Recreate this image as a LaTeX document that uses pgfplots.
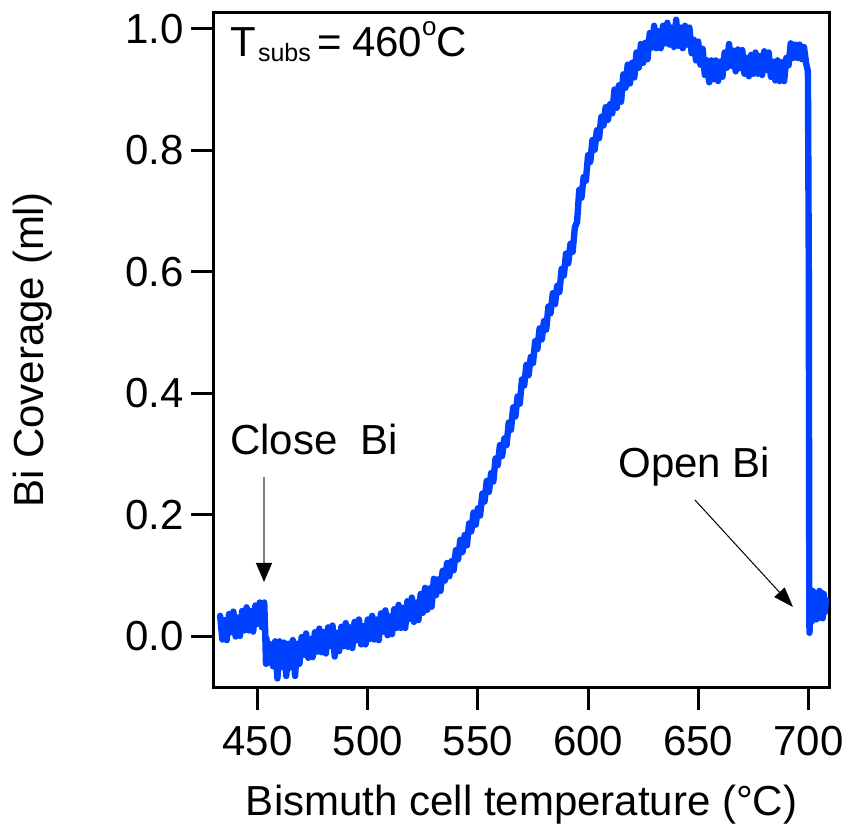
\documentclass[border=0pt]{standalone}
\usepackage{pgfplots}
\pgfplotsset{compat=1.18}
\usepackage{fontspec}
\setmainfont{Liberation Sans}
\usetikzlibrary{arrows.meta,calc}
\definecolor{cblue}{RGB}{0,64,255}
\begin{document}
\begin{tikzpicture}
\begin{axis}[
  scale only axis,
  width=307.65pt, height=337.15pt,
  xmin=430.2, xmax=709.5,
  ymin=-0.0836, ymax=1.026,
  xtick={450,500,550,600,650,700},
  ytick={0,0.2,0.4,0.6,0.8,1.0},
  yticklabel style={/pgf/number format/.cd, fixed, fixed zerofill, precision=1},
  xticklabel style={yshift=-4.5pt},
  /pgf/number format/assume math mode=true,
  tick pos=left,
  tick align=outside,
  major tick length=11.5pt,
  minor tick num=0,
  every tick/.style={black, line width=1.5pt},
  axis line style={line width=1.5pt},
  tick label style={font=\fontsize{21}{25}\selectfont},
  label style={font=\fontsize{21}{25}\selectfont},
  xlabel={Bismuth cell temperature (°C)},
  ylabel={Bi Coverage (ml)},
  xlabel style={at={(axis description cs:0.5,-0.1894)}, anchor=base},
  ylabel style={at={(axis description cs:-0.2775,0.5)}, anchor=base, rotate=0},
  clip=true,
]
\addplot[cblue, line width=3.2pt, line join=round, line cap=round] table {
433 0.034
434 -0.005
435 0.027
436 -0.006
437 0.037
438 0.007
439 0.041
440 0.000
441 0.031
442 0.001
443 0.042
444 0.010
445 0.048
446 0.010
447 0.042
448 0.008
449 0.051
450 0.021
451 0.056
452 0.015
453 0.056
453.5 0.000
453.8 -0.045
454 -0.003
455 -0.043
456 -0.013
457 -0.049
458 -0.008
459 -0.069
460 -0.008
461 -0.050
462 -0.010
463 -0.065
464 -0.012
465 -0.051
466 -0.006
467 -0.065
468 -0.012
469 -0.045
470 -0.001
471 -0.030
472 0.005
473 -0.035
474 -0.004
475 -0.034
476 0.007
477 -0.025
478 0.013
479 -0.026
480 0.007
481 -0.028
482 0.015
483 -0.016
484 0.018
485 -0.033
486 0.006
487 -0.024
488 0.016
489 -0.016
490 0.022
491 -0.017
492 0.015
493 -0.019
494 0.024
495 -0.006
496 0.028
497 -0.013
498 0.017
499 -0.013
500 0.028
501 -0.004
502 0.034
503 -0.005
504 0.028
505 -0.006
506 0.038
507 0.008
508 0.043
509 0.002
510 0.033
511 0.004
512 0.045
513 0.014
514 0.052
515 0.014
516 0.047
517 0.014
518 0.058
519 0.029
520 0.064
521 0.024
522 0.056
523 0.027
524 0.070
525 0.039
526 0.080
527 0.044
528 0.079
529 0.049
530 0.095
531 0.068
532 0.094
533 0.075
534 0.108
535 0.092
536 0.121
537 0.099
538 0.124
539 0.109
540 0.142
541 0.127
542 0.159
543 0.139
544 0.167
545 0.150
546 0.186
547 0.173
548 0.204
549 0.184
550 0.211
551 0.199
552 0.235
553 0.222
554 0.256
555 0.238
556 0.269
557 0.255
558 0.293
559 0.282
560 0.315
561 0.297
562 0.326
563 0.315
564 0.352
565 0.340
566 0.377
567 0.362
568 0.395
569 0.383
570 0.423
571 0.413
572 0.447
573 0.430
574 0.460
575 0.450
576 0.486
577 0.473
578 0.507
579 0.489
580 0.519
581 0.505
582 0.543
583 0.532
584 0.565
585 0.547
586 0.577
587 0.567
588 0.605
589 0.594
590 0.630
591 0.614
592 0.646
593 0.633
594 0.673
595 0.682
596 0.735
597 0.722
598 0.756
599 0.750
600 0.792
601 0.781
602 0.817
603 0.801
604 0.833
605 0.820
606 0.855
607 0.841
608 0.871
609 0.850
610 0.876
611 0.861
612 0.900
613 0.870
614 0.907
615 0.880
616 0.925
617 0.903
618 0.941
619 0.910
620 0.944
621 0.920
622 0.961
623 0.936
624 0.975
625 0.944
626 0.977
627 0.950
628 0.993
629 0.969
630 1.005
631 0.968
632 0.996
633 0.968
634 1.005
635 0.976
636 1.010
637 0.974
638 1.002
639 0.970
640 1.015
641 0.972
642 1.002
643 0.968
644 1.005
645 0.974
646 1.002
647 0.960
648 0.982
649 0.948
650 0.979
651 0.941
652 0.967
653 0.924
654 0.948
655 0.912
656 0.948
657 0.917
658 0.948
659 0.914
660 0.946
661 0.921
662 0.961
663 0.936
664 0.975
665 0.939
666 0.964
667 0.930
668 0.966
669 0.935
670 0.965
671 0.926
672 0.952
673 0.922
674 0.957
675 0.926
676 0.961
677 0.926
678 0.955
679 0.924
680 0.963
681 0.932
682 0.961
683 0.921
684 0.946
685 0.915
686 0.948
687 0.914
688 0.945
689 0.914
690 0.952
691 0.940
692 0.976
693 0.952
694 0.974
695 0.952
696 0.974
697 0.950
698 0.970
699 0.943
699.8 0.930
700.2 0.600
700.4 0.100
700.5 0.006
700.8 0.030
701.2 0.070
701.6 0.025
702 0.075
702.5 0.030
703 0.072
703.5 0.028
704 0.070
704.5 0.030
705 0.075
705.5 0.035
706 0.072
706.5 0.030
707 0.070
707.5 0.040
708 0.060
};
\node[anchor=base west, inner sep=0pt, font=\fontsize{21}{25}\selectfont] at (axis cs:437.4,0.954)
  {T\hspace{0.05em}{\fontsize{12.5}{12.5}\selectfont\raisebox{-0.2em}{subs}}\hspace{0.15em}=\hspace{0.25em}460\raisebox{0.5em}{\fontsize{13}{13}\selectfont o}C};
\node[anchor=base west, inner sep=0pt, font=\fontsize{21}{25}\selectfont] at (axis cs:437.4,0.299)
  {Close\hspace{0.55em}Bi};
\node[anchor=base west, inner sep=0pt, font=\fontsize{21}{25}\selectfont] at (axis cs:613.6,0.261)
  {Open Bi};
\draw[gray, line width=0.6pt, -{Triangle[black, width=8pt, length=9.5pt]}] (axis cs:452.9,0.2626) -- (axis cs:452.9,0.0897);
\draw[black, line width=0.5pt, -{Triangle[black, width=7pt, length=10pt]}] (axis cs:648.5,0.2247) -- (axis cs:693.0,0.0486);
\end{axis}
\pgfresetboundingbox
\path[use as bounding box] ($(current axis.south west)+(-107pt,-68.85pt)$) rectangle ($(current axis.north east)+(9.35pt,6.5pt)$);
\end{tikzpicture}
\end{document}
